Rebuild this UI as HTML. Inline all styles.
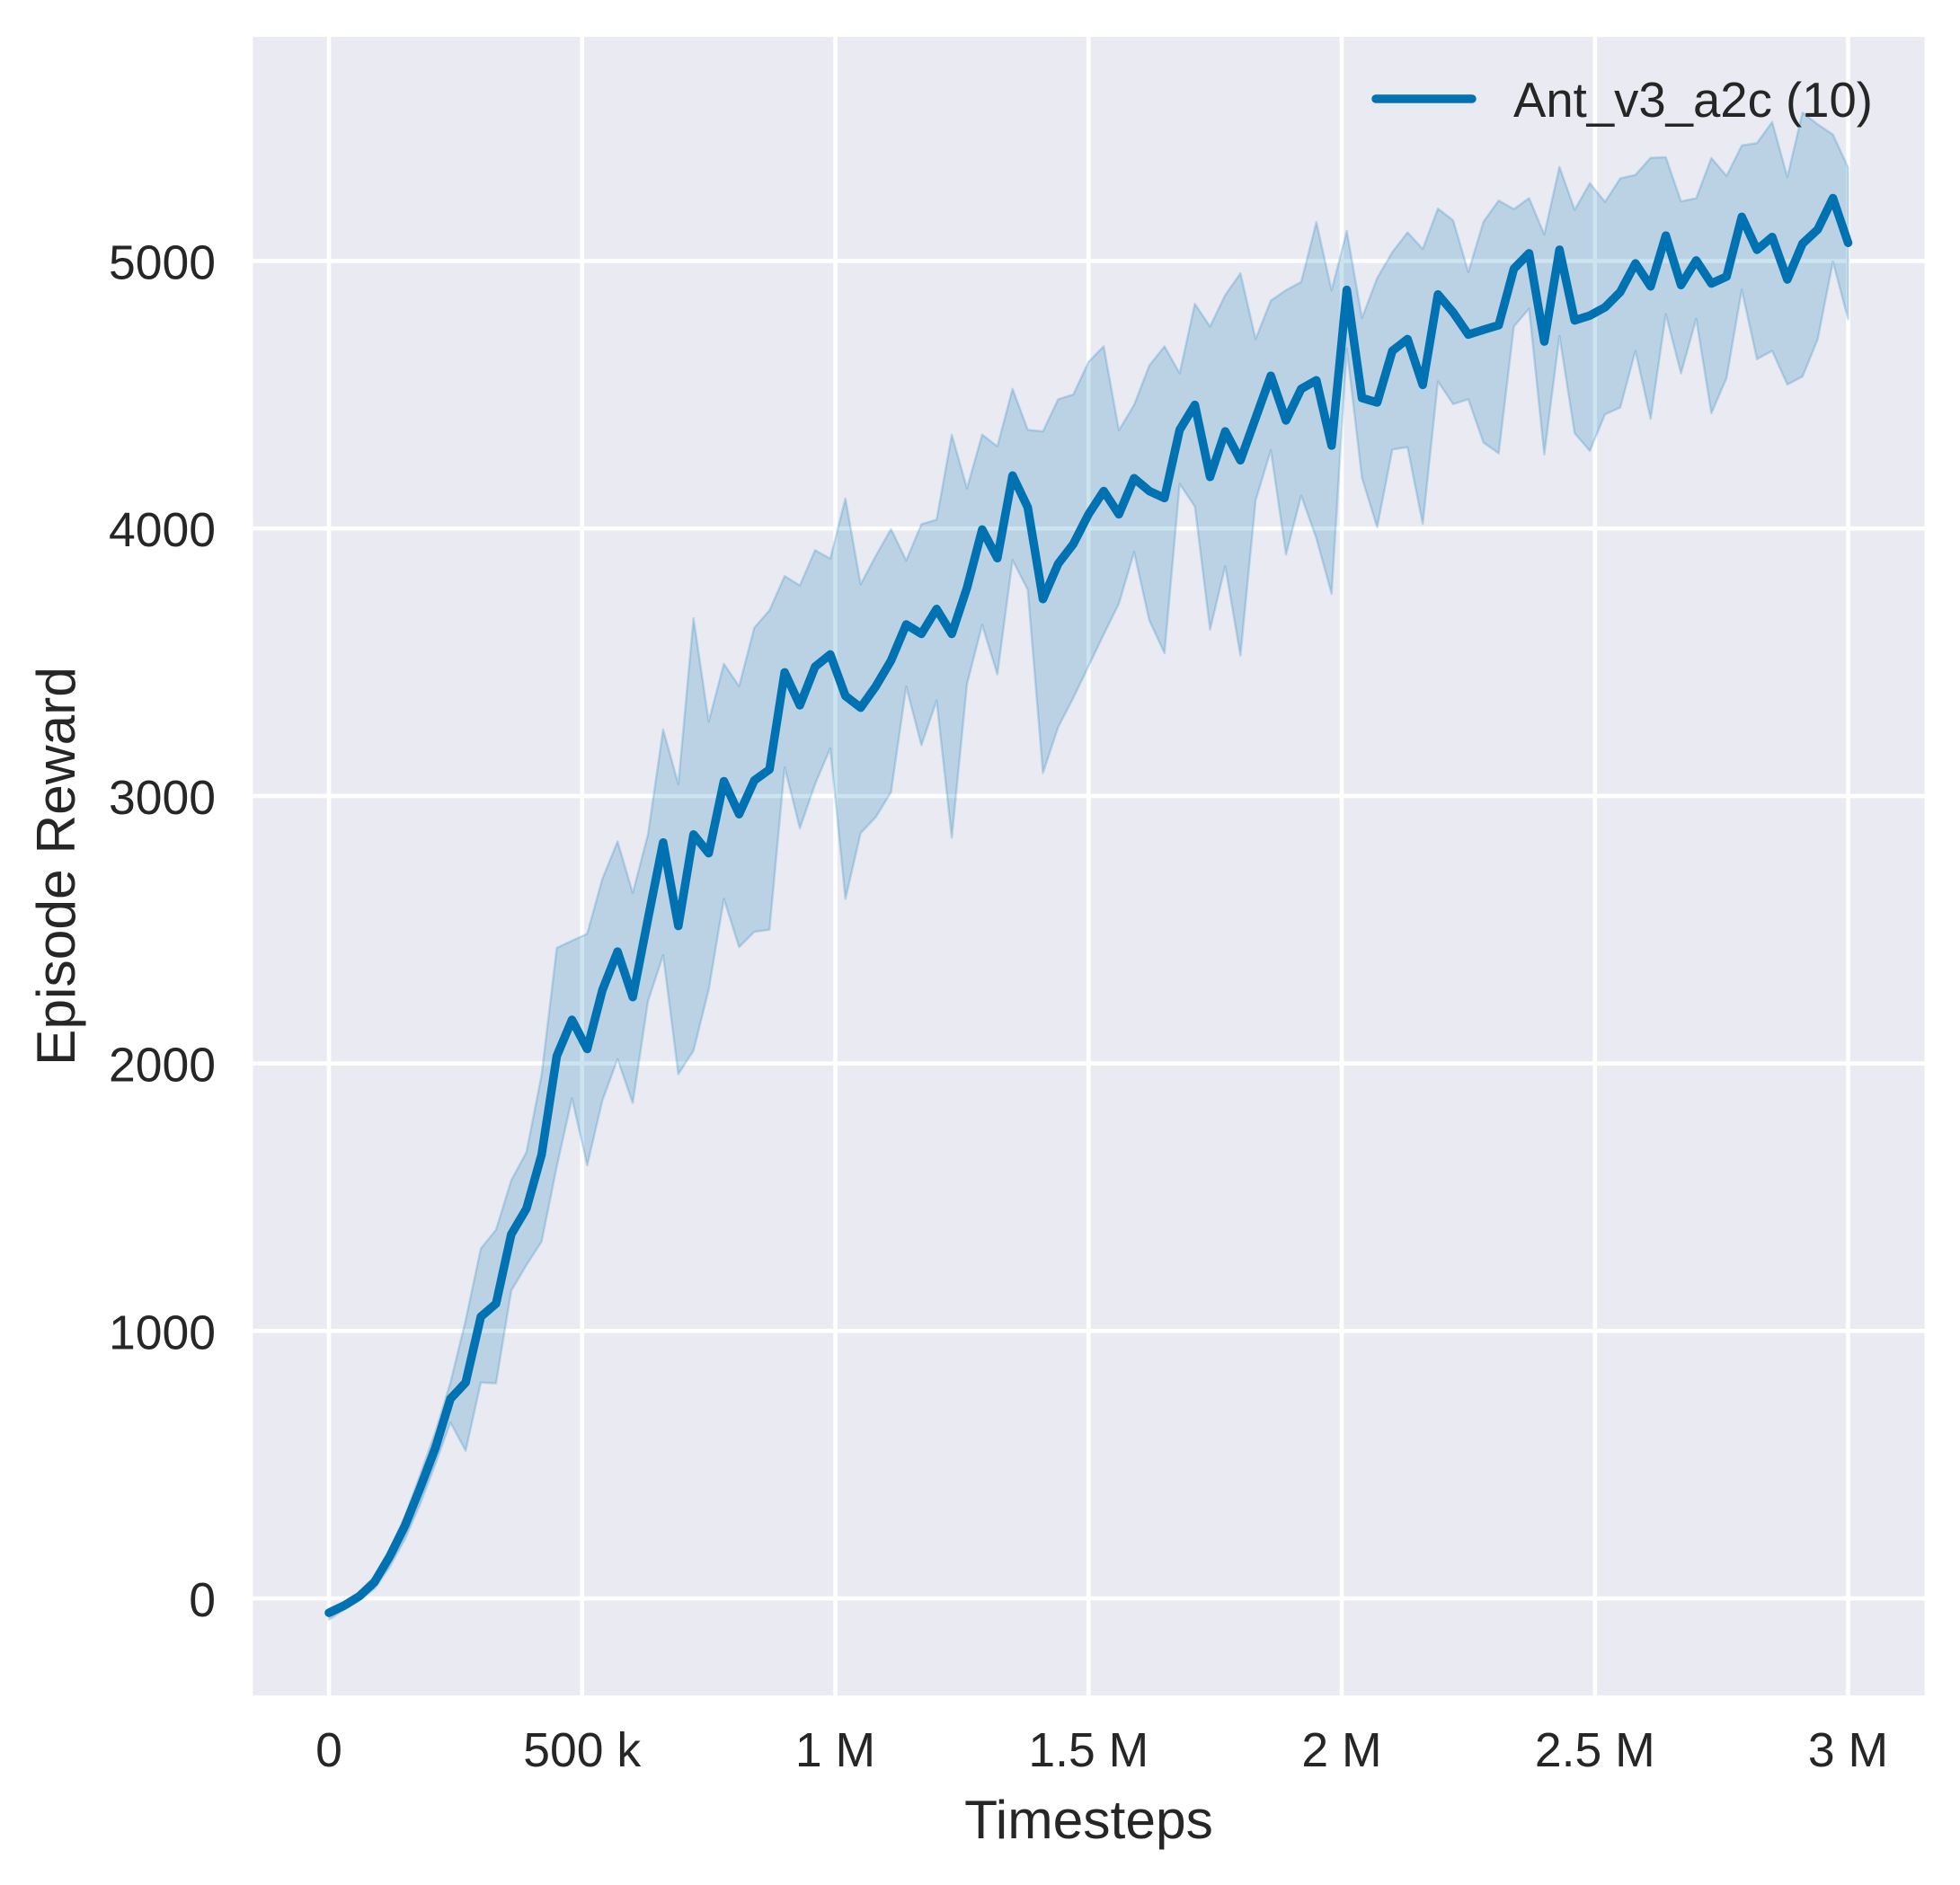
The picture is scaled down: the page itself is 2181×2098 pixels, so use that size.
<!DOCTYPE html>
<html>
<head>
<meta charset="utf-8">
<style>
  html, body { margin: 0; padding: 0; background: #ffffff; }
  svg { display: block; }
  text { font-family: "Liberation Sans", Arial, sans-serif; fill: #262626; }
</style>
</head>
<body>
<svg width="2181" height="2098" viewBox="0 0 2181 2098" xmlns="http://www.w3.org/2000/svg">
  <rect x="0" y="0" width="2181" height="2098" fill="#ffffff"/>
  <!-- plot background -->
  <rect x="281.5" y="41" width="1860" height="1846" fill="#EAEAF2"/>
  <!-- grid -->
  <g stroke="#ffffff" stroke-width="4.6">
    <line x1="366" y1="41" x2="366" y2="1887"/>
    <line x1="647.75" y1="41" x2="647.75" y2="1887"/>
    <line x1="929.5" y1="41" x2="929.5" y2="1887"/>
    <line x1="1211.25" y1="41" x2="1211.25" y2="1887"/>
    <line x1="1493" y1="41" x2="1493" y2="1887"/>
    <line x1="1774.75" y1="41" x2="1774.75" y2="1887"/>
    <line x1="2056.5" y1="41" x2="2056.5" y2="1887"/>
    <line x1="281.5" y1="1779" x2="2141.5" y2="1779"/>
    <line x1="281.5" y1="1481.3" x2="2141.5" y2="1481.3"/>
    <line x1="281.5" y1="1183.6" x2="2141.5" y2="1183.6"/>
    <line x1="281.5" y1="885.9" x2="2141.5" y2="885.9"/>
    <line x1="281.5" y1="588.2" x2="2141.5" y2="588.2"/>
    <line x1="281.5" y1="290.5" x2="2141.5" y2="290.5"/>
  </g>

  <!-- data -->
  <g transform="translate(366 1779) scale(16.905 -0.2977)">
    <polygon fill="#0072B2" fill-opacity="0.2" stroke="#0072B2" stroke-opacity="0.2" stroke-width="2.5" vector-effect="non-scaling-stroke" stroke-linejoin="round"
      points="0,-40 1,-12 2,23 3,81 4,182 5,306 6,462 7,621 8,807 9,1040 10,1308 11,1378 12,1563 13,1668 14,1958 15,2432 16,2459 17,2485 18,2690 19,2830 20,2637 21,2856 22,3248 23,3044 24,3664 25,3278 26,3494 27,3410 28,3629 29,3694 30,3822 31,3787 32,3919 33,3887 34,4112 35,3791 36,3898 37,3998 38,3880 39,4016 40,4033 41,4350 42,4150 43,4351 44,4307 45,4522 46,4369 47,4363 48,4483 49,4501 50,4623 51,4681 52,4367 53,4462 54,4609 55,4681 56,4580 57,4840 58,4755 59,4873 60,4954 61,4708 62,4852 63,4891 64,4922 65,5145 66,4890 67,5112 68,4787 69,4936 70,5033 71,5107 72,5045 73,5196 74,5152 75,4959 76,5147 77,5226 78,5194 79,5235 80,5099 81,5352 82,5191 83,5291 84,5221 85,5309 86,5322 87,5386 88,5388 89,5223 90,5235 91,5385 92,5318 93,5432 94,5441 95,5520 96,5314 97,5555 98,5511 99,5473 100,5350 100,4782 99,4998 98,4708 97,4568 96,4538 95,4664 94,4633 93,4893 92,4563 91,4431 90,4784 89,4580 88,4801 87,4410 86,4664 85,4452 84,4427 83,4290 82,4356 81,4720 80,4277 79,4822 78,4755 77,4281 76,4321 75,4483 74,4465 73,4550 72,4017 71,4304 70,4295 69,4005 68,4189 67,4673 66,3756 65,3963 64,4123 63,3903 62,4293 61,4105 60,3525 59,3859 58,3622 57,4082 56,4167 55,3534 54,3657 53,3912 52,3719 51,3604 50,3485 49,3367 48,3257 47,3086 46,3771 45,3882 44,3455 43,3640 42,3418 41,2844 40,3357 39,3190 38,3409 37,3014 36,2921 35,2861 34,2615 33,3178 32,3044 31,2879 30,3107 29,2500 28,2492 27,2435 26,2615 25,2276 24,2048 23,1960 22,2405 21,2232 20,1852 19,2016 18,1861 17,1619 16,1870 15,1615 14,1334 13,1246 12,1150 11,804 10,807 9,552 8,658 7,501 6,352 5,221 4,117 3,36 2,-7 1,-42 0,-80"/>
    <polyline fill="none" stroke="#0072B2" stroke-width="9.5" vector-effect="non-scaling-stroke" stroke-linejoin="round" stroke-linecap="round"
      points="0,-54 1,-27 2,8 3,61 4,157 5,271 6,412 7,561 8,746 9,807 10,1053 11,1102 12,1361 13,1457 14,1659 15,2028 16,2163 17,2054 18,2274 19,2418 20,2248 21,2540 22,2826 23,2514 24,2856 25,2786 26,3055 27,2932 28,3058 29,3099 30,3462 31,3339 32,3483 33,3529 34,3374 35,3330 36,3410 37,3506 38,3641 39,3606 40,3699 41,3606 42,3778 43,3996 44,3889 45,4198 46,4079 47,3736 48,3868 49,3942 50,4053 51,4140 52,4053 53,4188 54,4140 55,4114 56,4369 57,4462 58,4193 59,4363 60,4255 61,4413 62,4571 63,4404 64,4522 65,4554 66,4310 67,4892 68,4488 69,4471 70,4664 71,4708 72,4537 73,4875 74,4808 75,4725 76,4743 77,4760 78,4971 79,5029 80,4699 81,5042 82,4778 83,4796 84,4827 85,4884 86,4991 87,4905 88,5095 89,4910 90,5002 91,4916 92,4942 93,5165 94,5042 95,5090 96,4931 97,5065 98,5118 99,5235 100,5068"/>
  </g>

  <!-- y tick labels -->
  <g font-size="53.5" text-anchor="end">
    <text x="240" y="1799">0</text>
    <text x="240" y="1501.3">1000</text>
    <text x="240" y="1203.6">2000</text>
    <text x="240" y="905.9">3000</text>
    <text x="240" y="608.2">4000</text>
    <text x="240" y="310.5">5000</text>
  </g>

  <!-- x tick labels -->
  <g font-size="53.5" text-anchor="middle">
    <text x="366" y="1966">0</text>
    <text x="647.75" y="1966">500 k</text>
    <text x="929.5" y="1966">1 M</text>
    <text x="1211.25" y="1966">1.5 M</text>
    <text x="1493" y="1966">2 M</text>
    <text x="1774.75" y="1966">2.5 M</text>
    <text x="2056.5" y="1966">3 M</text>
  </g>

  <!-- axis labels -->
  <text x="1211.5" y="2046" font-size="60.5" text-anchor="middle">Timesteps</text>
  <text transform="translate(83 964) rotate(-90)" font-size="60.5" text-anchor="middle">Episode Reward</text>

  <!-- legend -->
  <line x1="1531" y1="110" x2="1638" y2="110" stroke="#0072B2" stroke-width="9.5" stroke-linecap="round"/>
  <text x="1684" y="130" font-size="54.5">Ant_v3_a2c (10)</text>
</svg>
</body>
</html>
